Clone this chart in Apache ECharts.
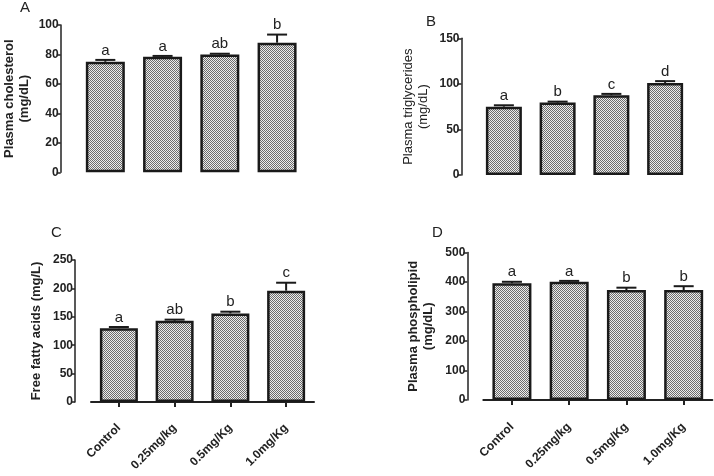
<!DOCTYPE html>
<html>
<head>
<meta charset="utf-8">
<script src="https://cdn.jsdelivr.net/npm/echarts@6/dist/echarts.min.js"></script>
<style>
html,body{margin:0;padding:0;background:#fff;}
#chart{width:714px;height:476px;}
</style>
</head>
<body>
<div id="chart"></div>
<script>
const categories = ['Control', '0.25mg/kg', '0.5mg/Kg', '1.0mg/Kg'];

const cholesterol = [75, 78.5, 80, 88];
const cholesterolErr = [1.3, 0.5, 0.5, 5.5];
const cholesterolLetters = ['a', 'a', 'ab', 'b'];

const triglycerides = [75, 79.5, 87.5, 101];
const triglyceridesErr = [1.5, 1, 1.5, 2];
const triglyceridesLetters = ['a', 'b', 'c', 'd'];

const fattyAcids = [130, 143, 156, 196];
const fattyAcidsErr = [2, 2, 3, 14];
const fattyAcidsLetters = ['a', 'ab', 'b', 'c'];

const phospholipid = [396, 401, 373, 373];
const phospholipidErr = [5, 3, 8, 13];
const phospholipidLetters = ['a', 'a', 'b', 'b'];

// checker pattern fill
const pc = document.createElement('canvas');
pc.width = 2; pc.height = 2;
const pctx = pc.getContext('2d');
pctx.fillStyle = '#ececec'; pctx.fillRect(0, 0, 2, 2);
pctx.fillStyle = '#6c6c6c'; pctx.fillRect(0, 0, 1, 1); pctx.fillRect(1, 1, 1, 1);
const pattern = { image: pc, repeat: 'repeat' };

const FONT = 'Liberation Sans, Arial, sans-serif';

const panels = [
  { vals: cholesterol, err: cholesterolErr, letters: cholesterolLetters, grid: { left: 76.7, top: 25, width: 229, height: 147.3 }, max: 100, interval: 20, name: 'Plasma cholesterol\n(mg/dL)', nameBold: true, nameGap: 29, showX: false, barWidth: 39, yOffset: 16 },
  { vals: triglycerides, err: triglyceridesErr, letters: triglyceridesLetters, grid: { left: 477, top: 38.3, width: 215, height: 136.7 }, max: 150, interval: 50, name: 'Plasma triglycerides\n(mg/dL)', nameBold: false, nameGap: 31, showX: false, barWidth: 36, yOffset: 15.5 },
  { vals: fattyAcids, err: fattyAcidsErr, letters: fattyAcidsLetters, grid: { left: 91, top: 260, width: 223, height: 142 }, max: 250, interval: 50, name: 'Free fatty acids (mg/L)', nameBold: true, nameGap: 31, showX: true, barWidth: 38, yOffset: 16, xOffset: 16 },
  { vals: phospholipid, err: phospholipidErr, letters: phospholipidLetters, grid: { left: 483.3, top: 252.6, width: 229, height: 147.4 }, max: 500, interval: 100, name: 'Plasma phospholipid\n(mg/dL)', nameBold: true, nameGap: 31, showX: true, barWidth: 39, yOffset: 16, xOffset: 17 }
];

const grids = [], xAxes = [], yAxes = [], series = [];
panels.forEach((p, i) => {
  grids.push(Object.assign({ containLabel: false }, p.grid));
  xAxes.push({
    type: 'category', gridIndex: i, data: categories,
    show: p.showX, offset: p.xOffset || 0,
    axisLine: { show: true, lineStyle: { color: '#222', width: 2 } },
    axisTick: { show: true, alignWithLabel: true, length: 5, lineStyle: { color: '#222', width: 2 } },
    axisLabel: { rotate: 45, fontFamily: FONT, fontWeight: 'bold', fontSize: 12, color: '#222', margin: 8, interval: 0 }
  });
  yAxes.push({
    type: 'value', gridIndex: i, min: 0, max: p.max, interval: p.interval,
    offset: p.yOffset,
    name: p.name, nameLocation: 'middle', nameRotate: 90, nameGap: p.nameGap,
    nameTextStyle: { fontFamily: FONT, fontWeight: p.nameBold ? 'bold' : 'normal', fontSize: 13, color: '#222', lineHeight: 15 },
    axisLine: { show: true, lineStyle: { color: '#222', width: 1.5 } },
    axisTick: { show: true, length: 4, lineStyle: { color: '#222', width: 1.5 } },
    splitLine: { show: false },
    axisLabel: { fontFamily: FONT, fontWeight: 'bold', fontSize: 12, color: '#222', margin: 2 }
  });
  series.push({
    type: 'bar', xAxisIndex: i, yAxisIndex: i, data: p.vals, barWidth: p.barWidth,
    itemStyle: { color: pattern, borderColor: '#1a1a1a', borderWidth: 2.5 },
    silent: true, z: 2
  });
  series.push({
    type: 'custom', xAxisIndex: i, yAxisIndex: i,
    data: p.vals.map((v, k) => [k, v, p.err[k]]),
    z: 3, silent: true,
    renderItem: function (params, api) {
      const k = params.dataIndex;
      const base = api.coord([api.value(0), api.value(1)]);
      const top = api.coord([api.value(0), api.value(1) + api.value(2)]);
      const cap = 10;
      return {
        type: 'group',
        children: [
          { type: 'line', shape: { x1: base[0], y1: base[1], x2: top[0], y2: top[1] }, style: { stroke: '#1a1a1a', lineWidth: 2 } },
          { type: 'line', shape: { x1: top[0] - cap, y1: top[1], x2: top[0] + cap, y2: top[1] }, style: { stroke: '#1a1a1a', lineWidth: 2 } },
          { type: 'text', style: { text: p.letters[k], x: top[0], y: top[1] - 2, align: 'center', verticalAlign: 'bottom', font: '15px ' + FONT, fill: '#222' } }
        ]
      };
    }
  });
});

const titles = [
  { text: 'A', left: 20, top: 0 },
  { text: 'B', left: 426, top: 14 },
  { text: 'C', left: 51, top: 225 },
  { text: 'D', left: 432, top: 225 }
].map(t => Object.assign(t, { padding: 0, textStyle: { fontFamily: FONT, fontWeight: 'normal', fontSize: 15, color: '#222' } }));

const chart = echarts.init(document.getElementById('chart'), null, { renderer: 'canvas' });
chart.setOption({
  animation: false,
  backgroundColor: '#fff',
  title: titles,
  grid: grids,
  xAxis: xAxes,
  yAxis: yAxes,
  series: series
});
</script>
</body>
</html>
